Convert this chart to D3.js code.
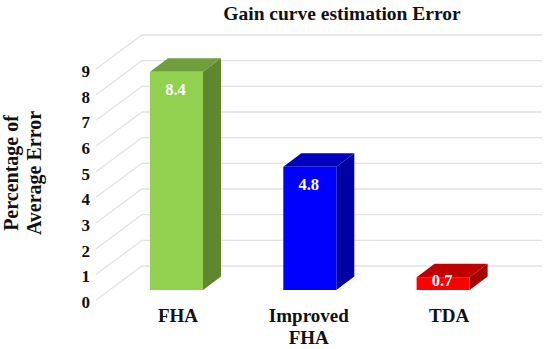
<!DOCTYPE html>
<html>
<head>
<meta charset="utf-8">
<script src="https://d3js.org/d3.v7.min.js"></script>
<style>
  body { margin: 0; background: #fff; }
  text { font-family: "Liberation Serif", serif; font-weight: bold; }
</style>
</head>
<body>
<div class="chart"></div>
<script>
const categories = [["FHA"], ["Improved", "FHA"], ["TDA"]];
const values = [8.5, 4.8, 0.5]; // bar heights
const valueLabels = ["8.4", "4.8", "0.7"];
const yTicks = [0, 1, 2, 3, 4, 5, 6, 7, 8, 9];
const frontColors = ["#92d050", "#0000ff", "#ff0000"];
const topColors = ["#6f9e3c", "#0000bf", "#bf0000"];
const sideColors = ["#5f8730", "#0000a3", "#a30000"];

const width = 550, height = 349;

const svg = d3.select('.chart').append('svg')
    .attr('width', width)
    .attr('height', height)
    .style('display', 'block');

// y scale for the front plane of the box, the wall sits behind it
const y = d3.scaleLinear().domain([0, 9]).range([300, 69]);
const x = d3.scaleBand().domain(d3.range(categories.length)).range([150, 469.6]).paddingInner(0.6024).paddingOuter(0);

const wallDx = 46, wallDy = -34;
const barDx = 18, barDy = -13.5;
const barBase = 290;
const gridRight = 542;
const pxPerUnit = y(0) - y(1);

// grid lines, side wall then back wall
svg.selectAll('.grid')
    .data(yTicks)
    .enter().append('polyline')
    .attr('class', 'grid')
    .attr('fill', 'none')
    .attr('stroke', '#e2e2e2')
    .attr('stroke-width', 1.3)
    .attr('points', d => [[96, y(d)], [96 + wallDx, y(d) + wallDy], [gridRight, y(d) + wallDy]].join(' '));

svg.selectAll('.tick-label')
    .data(yTicks)
    .enter().append('text')
    .attr('class', 'tick-label')
    .attr('x', 90)
    .attr('y', d => y(d) + 8)
    .attr('text-anchor', 'end')
    .attr('font-size', 17)
    .attr('fill', '#111')
    .text(d => d);

const bars = svg.selectAll('.bar')
    .data(values)
    .enter().append('g')
    .attr('class', 'bar');

const barW = x.bandwidth();
const barTop = d => barBase - d * pxPerUnit;

// top face
bars.append('polygon')
    .attr('fill', (d, i) => topColors[i])
    .attr('points', (d, i) => [[x(i), barTop(d)], [x(i) + barDx, barTop(d) + barDy],
        [x(i) + barW + barDx, barTop(d) + barDy], [x(i) + barW, barTop(d)]].join(' '));

// side face
bars.append('polygon')
    .attr('fill', (d, i) => sideColors[i])
    .attr('points', (d, i) => [[x(i) + barW, barTop(d)], [x(i) + barW + barDx, barTop(d) + barDy],
        [x(i) + barW + barDx, barBase + barDy], [x(i) + barW, barBase]].join(' '));

// front face
bars.append('rect')
    .attr('fill', (d, i) => frontColors[i])
    .attr('x', (d, i) => x(i))
    .attr('y', d => barTop(d))
    .attr('width', barW)
    .attr('height', d => barBase - barTop(d));

bars.append('text')
    .attr('x', (d, i) => x(i) + barW / 2 - 1)
    .attr('y', d => barTop(d) + (d < 1 ? 9 : 23.5))
    .attr('text-anchor', 'middle')
    .attr('font-size', 16.5)
    .attr('fill', '#fff')
    .text((d, i) => valueLabels[i]);

// category labels, Improved FHA wraps on two lines
const catOffset = [1.5, -1, 6];
const catLabels = svg.selectAll('.cat')
    .data(categories)
    .enter().append('text')
    .attr('class', 'cat')
    .attr('text-anchor', 'middle')
    .attr('font-size', 19)
    .attr('fill', '#111');

catLabels.selectAll('tspan')
    .data((d, i) => d.map(line => ({ line, i })))
    .enter().append('tspan')
    .attr('x', d => x(d.i) + barW / 2 + catOffset[d.i])
    .attr('y', (d, j) => 322 + j * 22)
    .text(d => d.line);

svg.append('text')
    .attr('x', 342)
    .attr('y', 19.5)
    .attr('text-anchor', 'middle')
    .attr('font-size', 19.5)
    .attr('fill', '#111')
    .text('Gain curve estimation Error');

const yTitle = svg.append('text')
    .attr('transform', 'translate(28,173) rotate(-90)')
    .attr('text-anchor', 'middle')
    .attr('font-size', 20)
    .attr('fill', '#111');
yTitle.append('tspan').attr('x', 0).attr('y', -10).text('Percentage of');
yTitle.append('tspan').attr('x', 0).attr('y', 13).text('Average Error');
</script>
</body>
</html>
